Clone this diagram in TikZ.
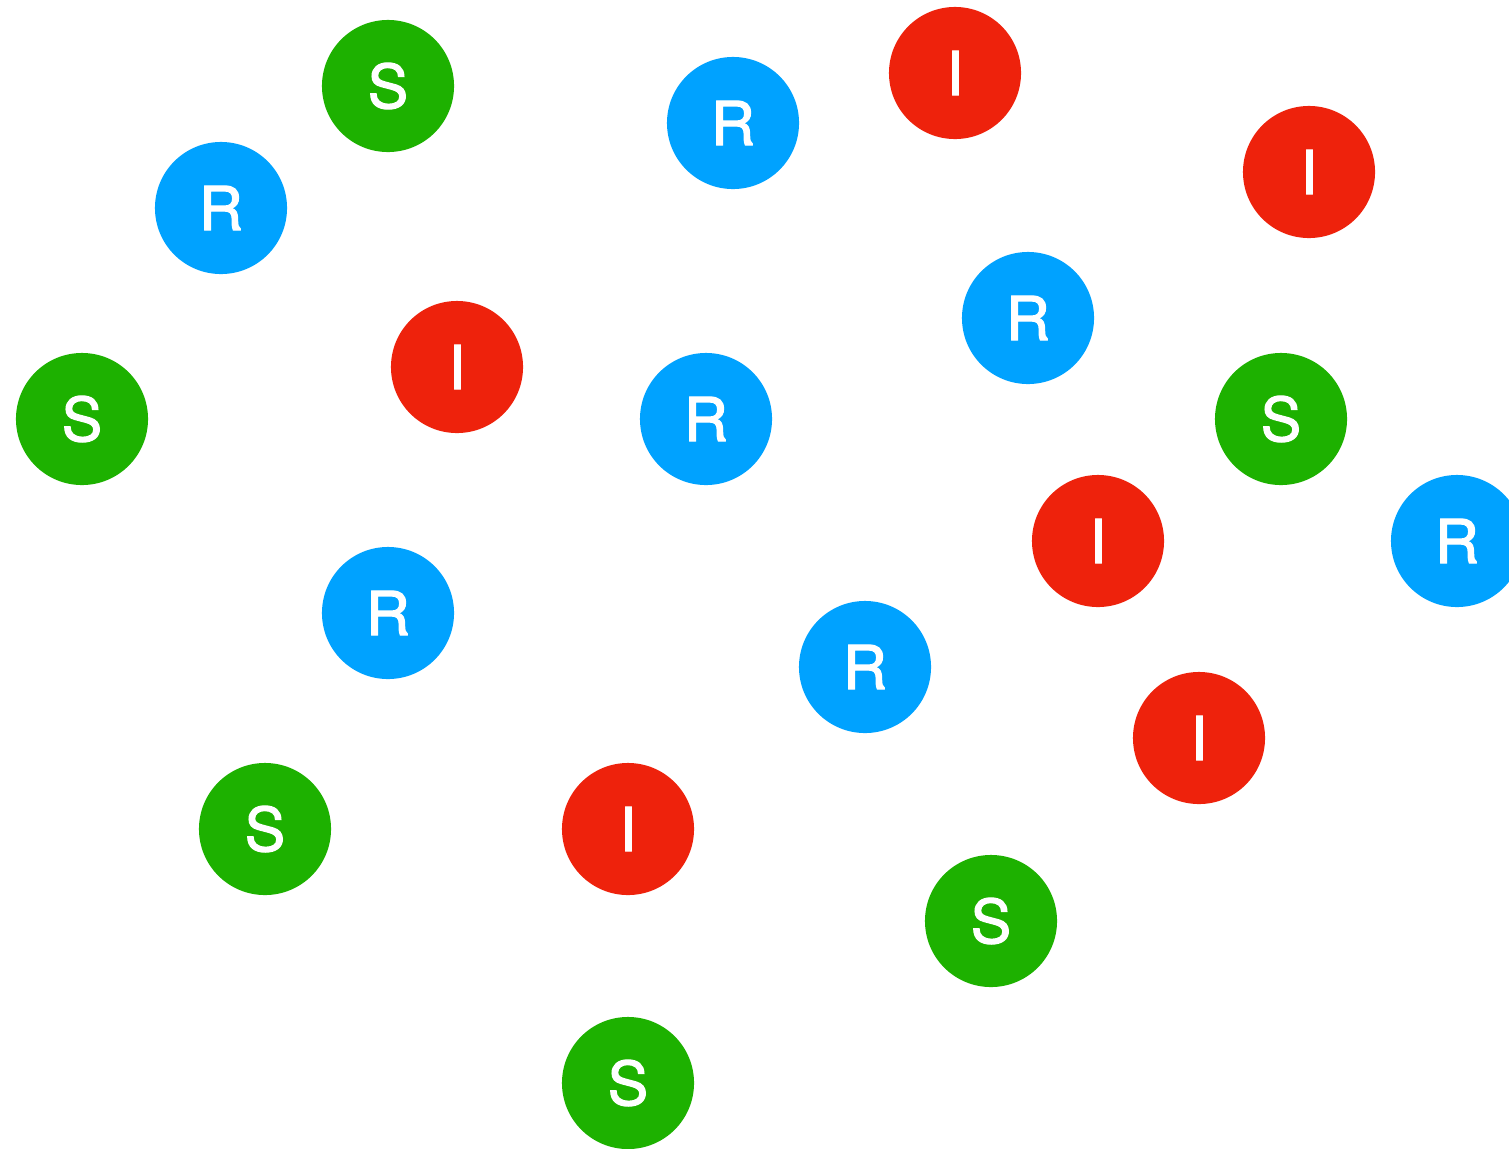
\documentclass[tikz,border=0pt]{standalone}
\usepackage{fontspec}
\setmainfont{TeX Gyre Heros}
\newfontfamily\agentfont[FakeBold=2]{TeX Gyre Heros}
\usepackage{xcolor}
\definecolor{colorS}{HTML}{1DB100}
\definecolor{colorI}{HTML}{EE220C}
\definecolor{colorR}{HTML}{00A2FF}

\begin{document}
\begin{tikzpicture}[
  x=0.01cm,
  y=-0.01cm,
  agent/.style={circle, minimum size=1.32cm, inner sep=0pt, text=white, font=\agentfont\fontsize{17.2}{18}\selectfont},
  susc/.style={agent, fill=colorS},
  infd/.style={agent, fill=colorI},
  recd/.style={agent, fill=colorR}
]
\useasboundingbox (0,0) rectangle (1509,1148);
\clip (0,0) rectangle (1509,1148);
% susceptible
\node[susc] (s1) at (388,86) {S};
\node[susc] (s2) at (82,419) {S};
\node[susc] (s3) at (265,829) {S};
\node[susc] (s4) at (628,1083) {S};
\node[susc] (s5) at (991,921) {S};
\node[susc] (s6) at (1281,419) {S};
% infected
\node[infd] (i1) at (955,73) {I};
\node[infd] (i2) at (1309,172) {I};
\node[infd] (i3) at (457,367) {I};
\node[infd] (i4) at (1098,541) {I};
\node[infd] (i5) at (1199,738) {I};
\node[infd] (i6) at (628,829) {I};
% recovered
\node[recd] (r1) at (221,208) {R};
\node[recd] (r2) at (733,123) {R};
\node[recd] (r3) at (1028,318) {R};
\node[recd] (r4) at (706,419) {R};
\node[recd] (r5) at (388,613) {R};
\node[recd] (r6) at (865,667) {R};
\node[recd] (r7) at (1457,541) {R};
\end{tikzpicture}
\end{document}
